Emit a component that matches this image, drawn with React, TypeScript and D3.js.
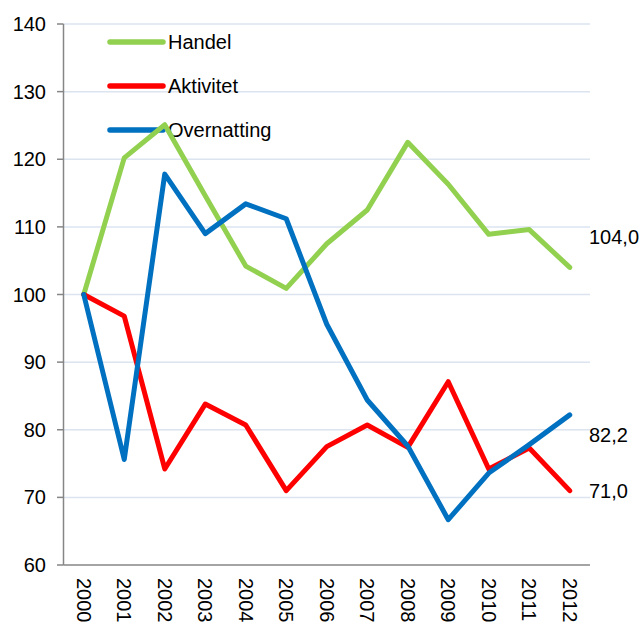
import React from 'react';
import * as d3 from 'd3';

const years = ['2000','2001','2002','2003','2004','2005','2006','2007','2008','2009','2010','2011','2012'];
const handel = [100, 120.2, 125.1, 114.6, 104.2, 100.9, 107.5, 112.5, 122.5, 116.3, 108.9, 109.6, 104.0];
const aktivitet = [100, 96.8, 74.2, 83.8, 80.7, 71.0, 77.5, 80.7, 77.4, 87.1, 74.2, 77.3, 71.0];
const overnatting = [100, 75.6, 117.8, 109.0, 113.4, 111.2, 95.6, 84.4, 77.6, 66.7, 73.6, 77.8, 82.2];
const yTicks = [60, 70, 80, 90, 100, 110, 120, 130, 140];

const series = [
  { name: 'Handel', values: handel, color: '#92d050', label: '104,0', dy: -30 },
  { name: 'Aktivitet', values: aktivitet, color: '#ff0000', label: '71,0', dy: 0 },
  { name: 'Overnatting', values: overnatting, color: '#0070c0', label: '82,2', dy: 20 },
];

const W = 643;
const H = 626;
const left = 63.5;
const right = 590;
const top = 24;
const bottom = 565;
const font = '"Liberation Sans", Arial, sans-serif';

export default function App() {
  const x = d3.scalePoint<string>().domain(years).range([left, right]).padding(0.5);
  const y = d3.scaleLinear().domain([60, 140]).range([bottom, top]);
  const line = d3.line<number>()
    .x((_, i) => x(years[i]) as number)
    .y((d) => y(d));

  return (
    <svg width={W} height={H} style={{ position: 'absolute', left: 0, top: 0, background: '#fff' }}
      fontFamily={font}>
      {/* gridlines */}
      {yTicks.filter((t) => t > 60).map((t) => (
        <line key={t} x1={left} x2={right} y1={y(t)} y2={y(t)} stroke="#dce4f0" strokeWidth={1.5} />
      ))}
      {/* y axis */}
      <line x1={left} x2={left} y1={top} y2={bottom} stroke="#868686" strokeWidth={1.5} />
      {yTicks.map((t) => (
        <g key={t}>
          <line x1={57} x2={left} y1={y(t)} y2={y(t)} stroke="#868686" strokeWidth={1.5} />
          <text x={46} y={y(t)} dy="0.35em" textAnchor="end" fontSize={20} fill="#000">{t}</text>
        </g>
      ))}
      {/* x axis */}
      <line x1={left} x2={right} y1={bottom} y2={bottom} stroke="#868686" strokeWidth={1.5} />
      {years.map((yr) => (
        <text key={yr} transform={`translate(${x(yr)},${578}) rotate(90)`} dy="0.35em"
          fontSize={20} fill="#000">{yr}</text>
      ))}
      {/* legend */}
      {series.map((s, i) => (
        <g key={s.name} transform={`translate(0,${42 + i * 44})`}>
          <line x1={110} x2={163} y1={0} y2={0} stroke={s.color} strokeWidth={5.5} strokeLinecap="round" />
          <text x={168} y={0} dy="0.35em" fontSize={20} fill="#000">{s.name}</text>
        </g>
      ))}
      {/* lines */}
      {series.map((s) => (
        <path key={s.name} d={line(s.values) ?? ''} fill="none" stroke={s.color} strokeWidth={5}
          strokeLinejoin="round" strokeLinecap="round" />
      ))}
      {/* end labels */}
      {series.map((s) => (
        <text key={s.name} x={589} y={y(s.values[s.values.length - 1]) + s.dy} dy="0.35em"
          fontSize={20} fill="#000">{s.label}</text>
      ))}
    </svg>
  );
}
